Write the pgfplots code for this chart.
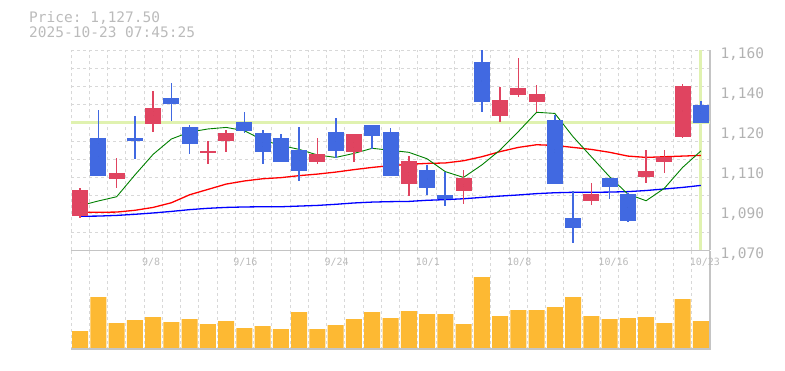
\documentclass[border=0pt]{standalone}
\usepackage{fontspec}
\setmonofont{DejaVu Sans Mono}
\usepackage{pgfplots}
\usepackage{pgfplotstable}
\pgfplotsset{compat=1.18}
\definecolor{upC}{RGB}{224,68,96}
\definecolor{dnC}{RGB}{65,105,225}
\definecolor{volC}{RGB}{253,185,51}
\definecolor{gridC}{RGB}{216,216,216}
\definecolor{axC}{RGB}{196,196,196}
\definecolor{txtC}{RGB}{187,187,187}
\definecolor{ytxtC}{RGB}{178,178,178}
\definecolor{priceC}{RGB}{224,242,176}
\definecolor{maG}{RGB}{0,128,0}

\pgfplotstableread{
i o h l c
0 1085.6 1098.0 1084.7 1097.1
2 1102.2 1111.5 1098.2 1104.8
4 1127.0 1141.7 1123.4 1134.0
7 1113.9 1119.2 1109.0 1114.7
8 1119.3 1124.1 1114.4 1122.8
13 1109.9 1120.5 1109.0 1113.3
15 1114.4 1122.3 1109.9 1122.3
18 1100.0 1112.6 1094.6 1110.2
21 1096.8 1106.1 1091.0 1102.6
23 1130.6 1143.6 1127.9 1137.6
24 1140.0 1156.7 1139.1 1143.0
25 1136.9 1144.4 1132.4 1140.3
28 1092.3 1100.4 1090.5 1095.3
31 1103.1 1115.3 1100.4 1105.6
32 1109.9 1115.3 1104.9 1112.1
33 1121.1 1144.9 1120.7 1144.1
}\upT

\pgfplotstableread{
i o h l c
1 1120.5 1133.1 1103.4 1103.6
3 1120.5 1130.4 1111.2 1119.3
5 1138.5 1145.3 1128.3 1136.0
6 1125.5 1126.4 1113.5 1118.0
9 1127.7 1132.2 1122.8 1123.8
10 1122.8 1124.1 1109.0 1114.4
11 1120.5 1122.3 1109.9 1109.9
12 1115.1 1125.4 1101.3 1105.8
14 1123.2 1129.5 1111.7 1114.8
16 1126.4 1126.4 1115.7 1121.5
17 1123.2 1125.0 1103.6 1103.6
19 1106.1 1108.5 1095.0 1098.2
20 1095.0 1105.4 1090.1 1093.1
22 1154.7 1160.1 1132.4 1136.9
26 1128.6 1130.9 1099.8 1099.8
27 1084.5 1096.6 1073.4 1080.2
29 1102.6 1102.6 1093.2 1098.6
30 1095.3 1095.8 1082.9 1083.3
34 1135.4 1137.2 1127.5 1127.5
}\dnT

\pgfplotstableread{
i m5 m25 m75 v
0 1090.1 1087.1 1085.3 52
1 1092.2 1087.1 1085.4 154
2 1094.1 1087.2 1085.7 76
3 1103.9 1088.0 1086.2 85
4 1113.2 1089.3 1086.8 94
5 1120.1 1091.4 1087.5 79
6 1123.2 1095.0 1088.3 88
7 1124.6 1097.4 1088.9 73
8 1125.3 1099.8 1089.3 82
9 1123.8 1101.2 1089.5 61
10 1119.6 1102.2 1089.6 67
11 1117.2 1102.7 1089.6 58
12 1115.4 1103.6 1089.9 109
13 1112.9 1104.3 1090.2 58
14 1111.8 1105.2 1090.7 70
15 1113.6 1106.3 1091.3 88
16 1115.9 1107.3 1091.7 109
17 1115.0 1108.1 1091.9 91
18 1114.1 1108.7 1092.0 112
19 1111.2 1109.1 1092.5 103
20 1105.4 1109.3 1092.8 103
21 1102.8 1110.3 1093.2 73
22 1108.4 1112.1 1093.8 214
23 1115.1 1114.4 1094.4 97
24 1123.4 1116.3 1094.9 115
25 1132.1 1117.5 1095.5 115
26 1131.6 1117.2 1095.9 124
27 1121.1 1116.3 1096.1 154
28 1112.1 1115.4 1096.1 97
29 1103.1 1114.1 1096.2 88
30 1095.3 1112.4 1096.4 91
31 1092.3 1111.8 1096.9 94
32 1097.9 1112.1 1097.6 76
33 1107.3 1112.4 1098.3 148
34 1114.7 1112.7 1099.2 82
}\maT

\pgfplotsset{
  candle/.style n args={2}{only marks, mark=*, mark size=0pt,
    mark options={draw=none, fill=none}, forget plot,
    error bars/.cd, y dir=both, y explicit, error mark=none,
    error bar style={draw=#1, line width=#2}},
}

\begin{document}
\begin{tikzpicture}[x=1pt,y=1pt]
\path[use as bounding box] (0,0) rectangle (785,370);
\node[anchor=base west, inner sep=0, font=\ttfamily\fontsize{14.5}{14.5}\selectfont, text=txtC] at (29,347) {Price: 1,127.50};
\node[anchor=base west, inner sep=0, font=\ttfamily\fontsize{14.5}{14.5}\selectfont, text=txtC] at (29,332) {2025-10-23 07:45:25};

% volume panel
\begin{axis}[at={(71pt,20.3pt)}, anchor=south west, scale only axis,
  width=639pt, height=99pt, xmin=-0.5, xmax=34.5, ymin=-4, ymax=293,
  axis x line*=bottom, axis y line*=right,
  axis line style={draw=axC, line width=1.2pt},
  xtick={-0.5,0.5,...,33.5}, xticklabels={}, xmajorgrids,
  ytick={0}, yticklabels={},
  major grid style={draw=gridC, dash pattern=on 3pt off 3pt, line width=0.9pt},
  major tick length=0pt, tick style={draw=none}]
\addplot[ybar, bar width=16pt, fill=volC, draw=none] table[x=i, y=v] \maT;
\addplot[axC, line width=1.4pt, forget plot] coordinates {(-0.5,-2.0) (34.5,-2.0)};
\end{axis}

% price panel
\begin{axis}[at={(71pt,119.7pt)}, anchor=south west, scale only axis,
  width=639pt, height=200pt, xmin=-0.5, xmax=34.5, ymin=1070, ymax=1160,
  axis x line*=bottom, axis y line*=right,
  axis line style={draw=axC, line width=1.2pt},
  xtick={4,9,14,19,24,29,34},
  xticklabels={9/8,9/16,9/24,10/1,10/8,10/16,10/23},
  ytick={1070,1088,1106,1124,1142,1160},
  yticklabels={{1,070},{1,090},{1,110},{1,120},{1,140},{1,160}},
  minor xtick={-0.5,0.5,...,33.5},
  minor ytick={1078.1818,1086.3636,1094.5455,1102.7273,1110.9091,1119.0909,1127.2727,1135.4545,1143.6364,1151.8182,1160},
  xminorgrids, yminorgrids,
  minor grid style={draw=gridC, dash pattern=on 3pt off 3pt, line width=0.9pt},
  major tick length=0pt, minor tick length=0pt, tick style={draw=none},
  xticklabel style={font=\ttfamily\fontsize{10}{10}\selectfont, text=txtC, anchor=base west, xshift=-11.3pt, yshift=-15.5pt, inner sep=0pt},
  yticklabel style={font=\ttfamily\fontsize{14.5}{14.5}\selectfont, text=ytxtC, anchor=base west, xshift=10.3pt, yshift=-8.3pt, inner sep=0pt},
  clip=true]
\addplot[priceC, line width=3.2pt, forget plot] coordinates {(-0.5,1127.5) (34.5,1127.5)};
\addplot[priceC, line width=2.8pt, forget plot] coordinates {(34,1070) (34,1160)};
\addplot[blue, line width=1.3pt, forget plot] table[x=i, y=m75] \maT;
\addplot[red, line width=1.3pt, forget plot] table[x=i, y=m25] \maT;
\addplot[maG, line width=0.9pt, forget plot] table[x=i, y=m5] \maT;
% wicks
\addplot[candle={upC}{1.6pt}]
  table[x=i, y expr={(\thisrow{h}+\thisrow{l})/2}, y error expr={(\thisrow{h}-\thisrow{l})/2}] \upT;
\addplot[candle={dnC}{1.6pt}]
  table[x=i, y expr={(\thisrow{h}+\thisrow{l})/2}, y error expr={(\thisrow{h}-\thisrow{l})/2}] \dnT;
% bodies
\addplot[candle={upC}{16pt}]
  table[x=i, y expr={(\thisrow{o}+\thisrow{c})/2}, y error expr={max(abs(\thisrow{c}-\thisrow{o})/2,0.4)}] \upT;
\addplot[candle={dnC}{16pt}]
  table[x=i, y expr={(\thisrow{o}+\thisrow{c})/2}, y error expr={max(abs(\thisrow{c}-\thisrow{o})/2,0.4)}] \dnT;
\end{axis}
\end{tikzpicture}
\end{document}
